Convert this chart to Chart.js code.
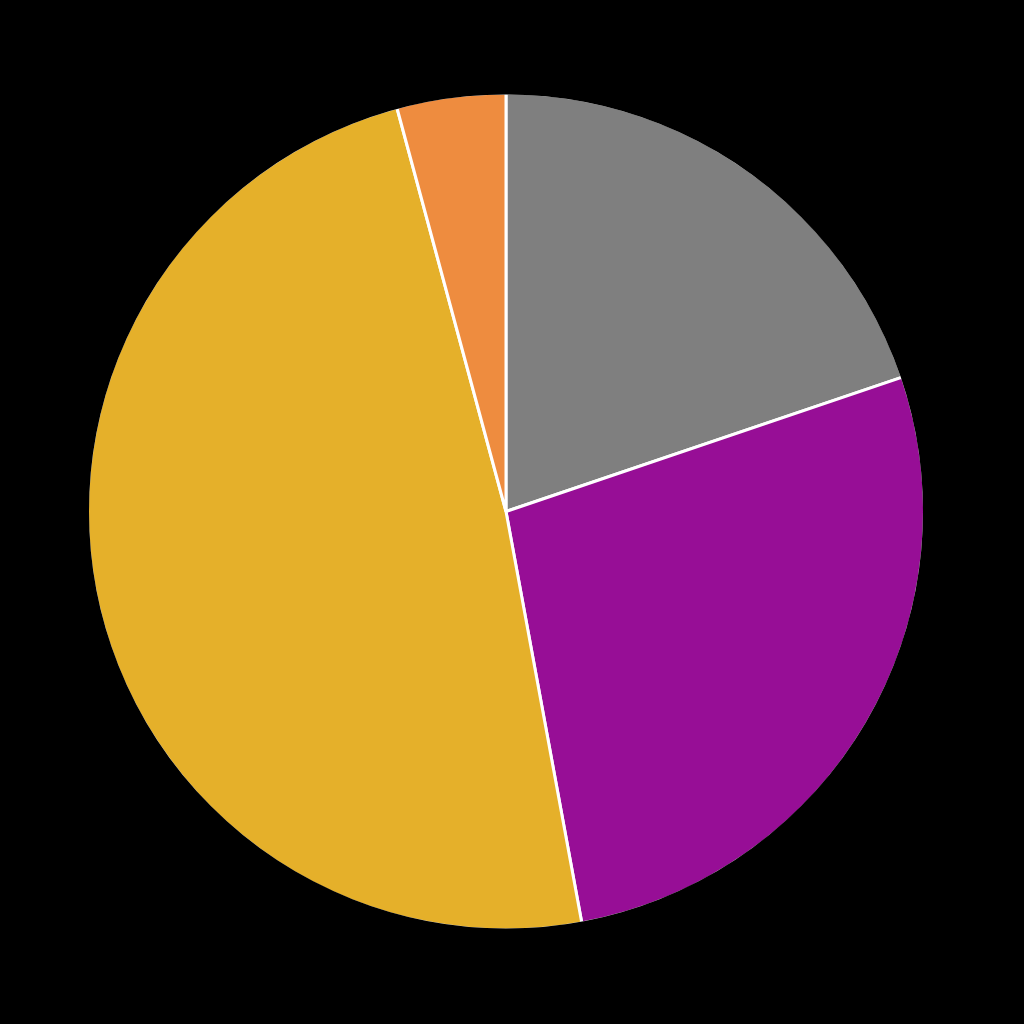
<!DOCTYPE html>
<html>
<head>
<meta charset="utf-8">
<script src="https://cdn.jsdelivr.net/npm/chart.js@4.4.1/dist/chart.umd.min.js"></script>
<style>
  html, body { margin:0; padding:0; background:#000; }
  #wrap { width:1024px; height:1024px; position:relative; }
</style>
</head>
<body>
<div id="wrap"><canvas id="pie"></canvas></div>
<script>
// ── DATA ────────────────────────────────────────────
const labels = ['Gray', 'Purple', 'Yellow', 'Orange'];
const values = [19.8, 27.3, 48.7, 4.2];
const colors = ['#7f7f7f', '#970e96', '#e5b02a', '#ee8c3f'];

// the reference has white separators but no white outer rim:
// paint the rim over in black after the arcs are drawn
const hideRim = {
  id: 'hideRim',
  afterDatasetsDraw(chart) {
    const arc = chart.getDatasetMeta(0).data[0];
    if (!arc) return;
    const ctx = chart.ctx;
    ctx.save();
    ctx.beginPath();
    ctx.arc(arc.x, arc.y, arc.outerRadius + 1, 0, Math.PI * 2);
    ctx.strokeStyle = '#000';
    ctx.lineWidth = 5;
    ctx.stroke();
    ctx.restore();
  }
};

// ── CHART ───────────────────────────────────────────
new Chart(document.getElementById('pie'), {
  type: 'pie',
  data: {
    labels: labels,
    datasets: [{
      data: values,
      backgroundColor: colors,
      borderColor: '#ffffff',
      borderWidth: 3
    }]
  },
  options: {
    responsive: true,
    maintainAspectRatio: false,
    animation: false,
    layout: { padding: { left: 86, right: 98, top: 91, bottom: 92 } },
    plugins: { legend: { display: false }, tooltip: { enabled: false } }
  },
  plugins: [hideRim]
});
</script>
</body>
</html>
